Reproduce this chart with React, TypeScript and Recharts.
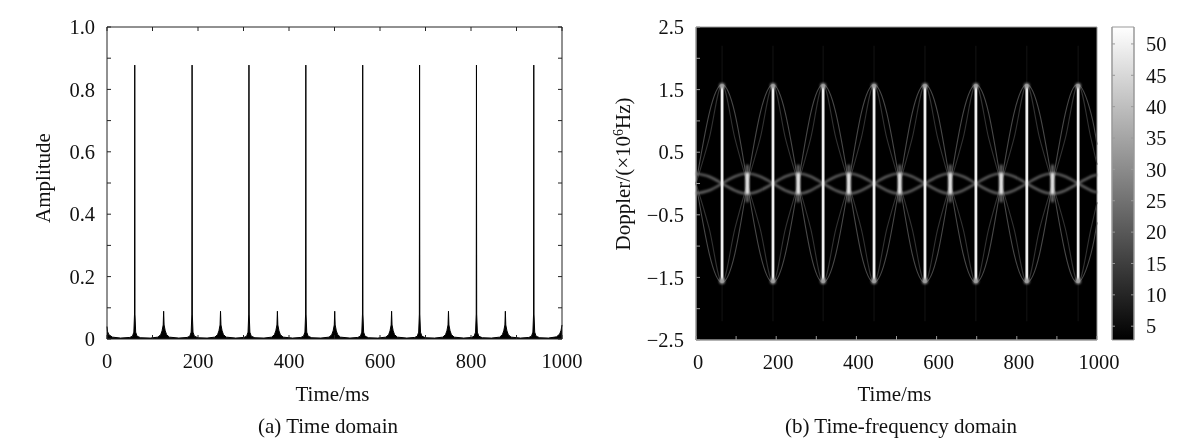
import React from 'react';
import { Area, ComposedChart, Line, ReferenceArea, ReferenceDot, ReferenceLine, XAxis, YAxis } from 'recharts';

const font = '"Liberation Serif", "Times New Roman", serif';
const ink = '#222';

// (a) time domain: [ms, amplitude] around each blade flash
const signal = [
  [0, 0.04], [1, 0.025], [4, 0.014], [12, 0.006], [30, 0.003],
  [50, 0.005], [56, 0.009], [59, 0.022], [60.5, 0.08], [61, 0.878], [61.5, 0.08], [63, 0.022], [66, 0.009], [74, 0.004], [95, 0.003],
  [112, 0.006], [118, 0.014], [121, 0.026], [123.5, 0.045], [124.5, 0.089], [125.5, 0.045], [128, 0.026], [131, 0.014], [137, 0.006], [158, 0.003],
  [176, 0.005], [182, 0.009], [185, 0.022], [186.5, 0.08], [187, 0.878], [187.5, 0.08], [189, 0.022], [192, 0.009], [200, 0.004], [220, 0.003],
  [237, 0.006], [243, 0.014], [246, 0.026], [248.5, 0.045], [249.5, 0.089], [250.5, 0.045], [253, 0.026], [256, 0.014], [262, 0.006], [283, 0.003],
  [301, 0.005], [307, 0.009], [310, 0.022], [311.5, 0.08], [312, 0.878], [312.5, 0.08], [314, 0.022], [317, 0.009], [325, 0.004], [345, 0.003],
  [362, 0.006], [368, 0.014], [371, 0.026], [373.5, 0.045], [374.5, 0.089], [375.5, 0.045], [378, 0.026], [381, 0.014], [387, 0.006], [408, 0.003],
  [426, 0.005], [432, 0.009], [435, 0.022], [436.5, 0.08], [437, 0.878], [437.5, 0.08], [439, 0.022], [442, 0.009], [450, 0.004], [470, 0.003],
  [488, 0.006], [494, 0.014], [497, 0.026], [499.5, 0.045], [500.5, 0.089], [501.5, 0.045], [504, 0.026], [507, 0.014], [513, 0.006], [534, 0.003],
  [551, 0.005], [557, 0.009], [560, 0.022], [561.5, 0.08], [562, 0.878], [562.5, 0.08], [564, 0.022], [567, 0.009], [575, 0.004], [595, 0.003],
  [613, 0.006], [619, 0.014], [622, 0.026], [624.5, 0.045], [625.5, 0.089], [626.5, 0.045], [629, 0.026], [632, 0.014], [638, 0.006], [659, 0.003],
  [676, 0.005], [682, 0.009], [685, 0.022], [686.5, 0.08], [687, 0.878], [687.5, 0.08], [689, 0.022], [692, 0.009], [700, 0.004], [720, 0.003],
  [738, 0.006], [744, 0.014], [747, 0.026], [749.5, 0.045], [750.5, 0.089], [751.5, 0.045], [754, 0.026], [757, 0.014], [763, 0.006], [784, 0.003],
  [801, 0.005], [807, 0.009], [810, 0.022], [811.5, 0.08], [812, 0.878], [812.5, 0.08], [814, 0.022], [817, 0.009], [825, 0.004], [845, 0.003],
  [863, 0.006], [869, 0.014], [872, 0.026], [874.5, 0.045], [875.5, 0.089], [876.5, 0.045], [879, 0.026], [882, 0.014], [888, 0.006], [909, 0.003],
  [927, 0.005], [933, 0.009], [936, 0.022], [937.5, 0.08], [938, 0.878], [938.5, 0.08], [940, 0.022], [943, 0.009], [951, 0.004], [970, 0.003],
  [988, 0.007], [995, 0.016], [998, 0.028], [1000, 0.045],
];
const signalRows = signal.map(([time, amp]) => ({ time, amp }));

// (b) time-frequency ridges read at regular steps along the picture
const ridgeTimes = [0, 33, 65, 97, 128, 160, 192, 223, 255, 286, 317, 349, 381, 412, 444, 476, 508, 539, 571, 603, 634, 666, 698, 730, 761, 793, 825, 857, 889, 921, 953, 985, 1000];
const outerUp = [0, 1.12, 1.58, 1.12, 0, -1.12, -1.58, -1.12, 0, 1.12, 1.58, 1.12, 0, -1.12, -1.58, -1.12, 0, 1.12, 1.58, 1.12, 0, -1.12, -1.58, -1.12, 0, 1.12, 1.58, 1.12, 0, -1.12, -1.58, -1.12, -0.62];
const outerDown = [0, -1.12, -1.58, -1.12, 0, 1.12, 1.58, 1.12, 0, -1.12, -1.58, -1.12, 0, 1.12, 1.58, 1.12, 0, -1.12, -1.58, -1.12, 0, 1.12, 1.58, 1.12, 0, -1.12, -1.58, -1.12, 0, 1.12, 1.58, 1.12, 0.62];
const innerUp = [0, 0.72, 1.58, 0.72, 0, -0.72, -1.58, -0.72, 0, 0.72, 1.58, 0.72, 0, -0.72, -1.58, -0.72, 0, 0.72, 1.58, 0.72, 0, -0.72, -1.58, -0.72, 0, 0.72, 1.58, 0.72, 0, -0.72, -1.58, -0.72, -0.3];
const innerDown = [0, -0.72, -1.58, -0.72, 0, 0.72, 1.58, 0.72, 0, -0.72, -1.58, -0.72, 0, 0.72, 1.58, 0.72, 0, -0.72, -1.58, -0.72, 0, 0.72, 1.58, 0.72, 0, -0.72, -1.58, -0.72, 0, 0.72, 1.58, 0.72, 0.3];
const hubUp = [-0.16, -0.11, 0, 0.11, 0.16, 0.11, 0, -0.11, -0.16, -0.11, 0, 0.11, 0.16, 0.11, 0, -0.11, -0.16, -0.11, 0, 0.11, 0.16, 0.11, 0, -0.11, -0.16, -0.11, 0, 0.11, 0.16, 0.11, 0, -0.11, -0.14];
const hubDown = [0.16, 0.11, 0, -0.11, -0.16, -0.11, 0, 0.11, 0.16, 0.11, 0, -0.11, -0.16, -0.11, 0, 0.11, 0.16, 0.11, 0, -0.11, -0.16, -0.11, 0, 0.11, 0.16, 0.11, 0, -0.11, -0.16, -0.11, 0, 0.11, 0.14];
const ridgeRows = ridgeTimes.map((time, i) => ({
  time,
  outerUp: outerUp[i],
  outerDown: outerDown[i],
  innerUp: innerUp[i],
  innerDown: innerDown[i],
  hubUp: hubUp[i],
  hubDown: hubDown[i],
}));

const flashTimes = [65, 192, 317, 444, 571, 698, 825, 953];
const crossTimes = [128, 255, 381, 508, 634, 761, 889];
const apexFreqs = [1.56, -1.56];

const timeTicks = [0, 100, 200, 300, 400, 500, 600, 700, 800, 900, 1000];
const ampTicks = [0, 0.1, 0.2, 0.3, 0.4, 0.5, 0.6, 0.7, 0.8, 0.9, 1];
const dopplerTicks = [-2.5, -2, -1.5, -1, -0.5, 0, 0.5, 1, 1.5, 2, 2.5];
const barTicks = [5, 10, 15, 20, 25, 30, 35, 40, 45, 50];
const barLimits = [2.8, 52.7];
const barRows = [{ x: 0, level: 2.8 }, { x: 1, level: 52.7 }];

const tickStyle = { fontFamily: font, fontSize: 20.5, fill: '#111' };
const titleStyle = { fontFamily: font, fontSize: 21, fill: '#111' };
const ridgeBlur = { filter: 'blur(0.5px)' };
const hubBlur = { filter: 'blur(0.8px)' };
const spotBlur = { filter: 'blur(1.1px)' };

const timeLabel = (v: number) => (v % 200 === 0 ? String(v) : '');
const ampLabel = (v: number) => (v === 0 ? '0' : Math.round(v * 10) % 2 === 0 ? v.toFixed(1) : '');
const dopplerLabel = (v: number) => (Math.abs(v * 2) % 2 === 1 ? v.toFixed(1).replace('-', '\u2212') : '');

export default function App() {
  return (
    <div style={{ position: 'absolute', left: 0, top: 0, width: 1190, height: 439, background: '#fff', overflow: 'hidden', filter: 'blur(0.4px)' }}>
      <div style={{ position: 'absolute', left: 0, top: 0 }}>
        <ComposedChart width={600} height={439} data={signalRows} margin={{ top: 26, right: 37, bottom: 40, left: 0 }}>
          <XAxis dataKey="time" type="number" domain={[0, 1000]} ticks={timeTicks} interval={0} tickFormatter={timeLabel} height={60} tickSize={-4} tickMargin={18} stroke={ink} tick={tickStyle} />
          <YAxis type="number" domain={[0, 1]} ticks={ampTicks} interval={0} tickFormatter={ampLabel} width={107} tickSize={-4} tickMargin={16} stroke={ink} tick={tickStyle} />
          <XAxis xAxisId="top" orientation="top" dataKey="time" type="number" domain={[0, 1000]} ticks={timeTicks} interval={0} tickFormatter={() => ''} height={1} tickSize={-4} stroke={ink} />
          <YAxis yAxisId="right" orientation="right" type="number" domain={[0, 1]} ticks={ampTicks} interval={0} tickFormatter={() => ''} width={1} tickSize={-4} stroke={ink} />
          <Area dataKey="amp" type="linear" stroke="#000" strokeWidth={1} fill="#000" fillOpacity={1} dot={false} activeDot={false} isAnimationActive={false} />
          <Line yAxisId="right" dataKey="amp" stroke="none" dot={false} activeDot={false} isAnimationActive={false} />
          <text x={332.5} y={401} textAnchor="middle" style={titleStyle}>Time/ms</text>
          <text x={328} y={433} textAnchor="middle" style={titleStyle}>(a) Time domain</text>
          <text transform="translate(50,178) rotate(-90)" textAnchor="middle" style={titleStyle}>Amplitude</text>
        </ComposedChart>
      </div>

      <div style={{ position: 'absolute', left: 600, top: 0 }}>
        <ComposedChart width={530} height={439} data={ridgeRows} margin={{ top: 27, right: 33, bottom: 39, left: 0 }}>
          <XAxis dataKey="time" type="number" domain={[0, 1000]} ticks={timeTicks} interval={0} tickFormatter={timeLabel} height={60} tickSize={-4} tickMargin={18} stroke="#999" tick={{ ...tickStyle, dx: 2 }} />
          <YAxis type="number" domain={[-2.5, 2.5]} ticks={dopplerTicks} interval={0} tickFormatter={dopplerLabel} width={96} tickSize={-4} tickMargin={16} stroke="#999" tick={tickStyle} />
          <ReferenceArea x1={0} x2={1000} y1={-2.5} y2={2.5} fill="#000" fillOpacity={1} stroke="#999" />
          {flashTimes.map((t) => (
            <ReferenceLine key={'up' + t} segment={[{ x: t, y: 1.58 }, { x: t, y: 2.2 }]} stroke="#141414" strokeWidth={1} />
          ))}
          {flashTimes.map((t) => (
            <ReferenceLine key={'dn' + t} segment={[{ x: t, y: -2.2 }, { x: t, y: -1.58 }]} stroke="#141414" strokeWidth={1} />
          ))}
          <Line dataKey="outerUp" type="natural" stroke="#484848" strokeWidth={1.1} style={ridgeBlur} dot={false} activeDot={false} isAnimationActive={false} />
          <Line dataKey="outerDown" type="natural" stroke="#484848" strokeWidth={1.1} style={ridgeBlur} dot={false} activeDot={false} isAnimationActive={false} />
          <Line dataKey="innerUp" type="monotone" stroke="#323232" strokeWidth={1.1} style={ridgeBlur} dot={false} activeDot={false} isAnimationActive={false} />
          <Line dataKey="innerDown" type="monotone" stroke="#323232" strokeWidth={1.1} style={ridgeBlur} dot={false} activeDot={false} isAnimationActive={false} />
          <Line dataKey="hubUp" type="natural" stroke="#6c6c6c" strokeWidth={2.2} style={hubBlur} dot={false} activeDot={false} isAnimationActive={false} />
          <Line dataKey="hubDown" type="natural" stroke="#6c6c6c" strokeWidth={2.2} style={hubBlur} dot={false} activeDot={false} isAnimationActive={false} />
          {crossTimes.map((t) => (
            <ReferenceLine key={'d' + t} segment={[{ x: t, y: -0.3 }, { x: t, y: 0.3 }]} stroke="#666" strokeWidth={3} style={spotBlur} />
          ))}
          {crossTimes.map((t) => (
            <ReferenceLine key={'c' + t} segment={[{ x: t, y: -0.17 }, { x: t, y: 0.17 }]} stroke="#eee" strokeWidth={3.5} style={spotBlur} />
          ))}
          {flashTimes.flatMap((t) =>
            apexFreqs.map((f) => (
              <ReferenceDot key={'s' + t + f} x={t} y={f} r={2.8} fill="#9a9a9a" stroke="none" style={spotBlur} />
            )),
          )}
          {flashTimes.map((t) => (
            <ReferenceLine key={'f' + t} segment={[{ x: t, y: -1.58 }, { x: t, y: 1.58 }]} stroke="#f0f0f0" strokeWidth={2.8} />
          ))}
          <text x={294.5} y={401} textAnchor="middle" style={titleStyle}>Time/ms</text>
          <text x={301} y={433} textAnchor="middle" style={titleStyle}>(b) Time-frequency domain</text>
          <text transform="translate(30,174) rotate(-90)" textAnchor="middle" style={titleStyle}>
            Doppler/(×10<tspan dy={-7} fontSize={14}>6</tspan><tspan dy={7}>Hz)</tspan>
          </text>
        </ComposedChart>
      </div>

      <div style={{ position: 'absolute', left: 1100, top: 0 }}>
        <ComposedChart width={90} height={439} data={barRows} margin={{ top: 27, right: 0, bottom: 99, left: 0 }}>
          <defs>
            <linearGradient id="grayRamp" x1="0" y1="0" x2="0" y2="1">
              <stop offset="0%" stopColor="#ffffff" />
              <stop offset="100%" stopColor="#000000" />
            </linearGradient>
          </defs>
          <XAxis dataKey="x" type="number" domain={[0, 1]} hide />
          <YAxis type="number" domain={barLimits} ticks={barTicks} interval={0} tickFormatter={() => ''} width={12} tickSize={-3} stroke="#999" />
          <YAxis yAxisId="labels" orientation="right" type="number" domain={barLimits} ticks={barTicks} interval={0} width={56} tickSize={-3} tickMargin={15} stroke="#999" tick={tickStyle} />
          <ReferenceArea x1={0} x2={1} y1={barLimits[0]} y2={barLimits[1]} fill="url(#grayRamp)" fillOpacity={1} stroke="#999" />
          <Line dataKey="level" stroke="none" dot={false} activeDot={false} isAnimationActive={false} />
          <Line yAxisId="labels" dataKey="level" stroke="none" dot={false} activeDot={false} isAnimationActive={false} />
        </ComposedChart>
      </div>
    </div>
  );
}
